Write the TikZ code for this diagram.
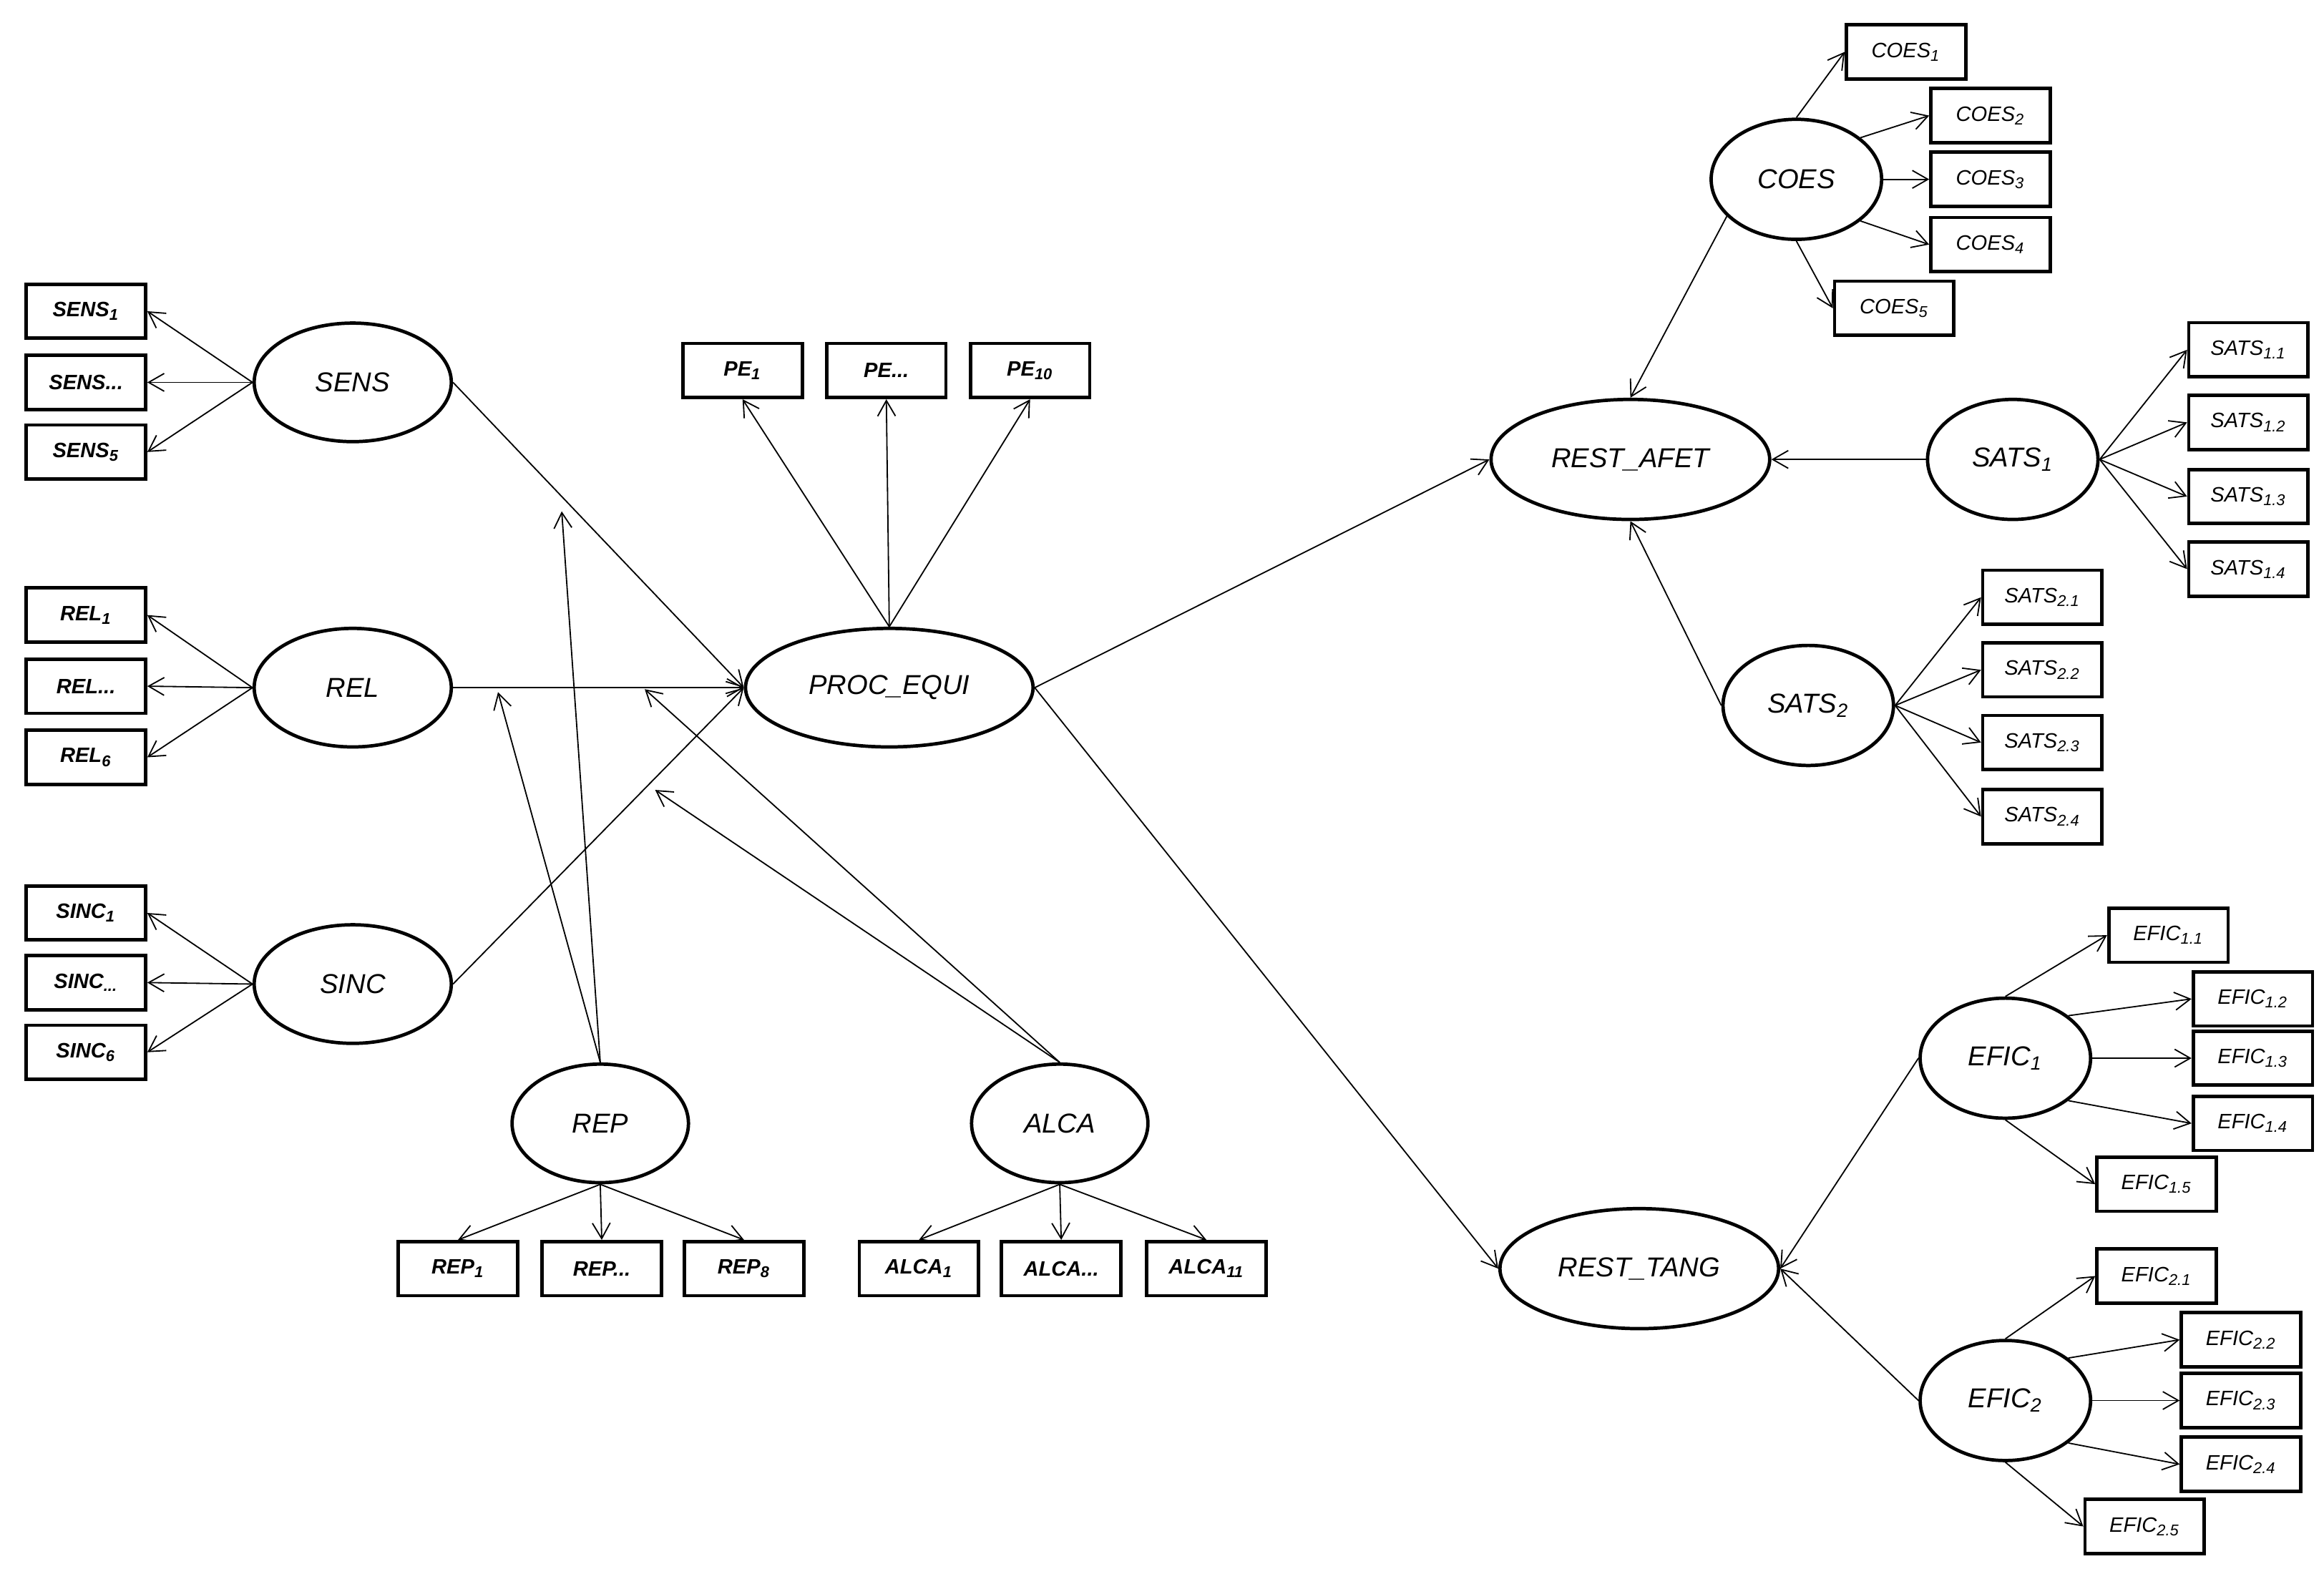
\documentclass[tikz,border=0pt]{standalone}
\usepackage{fontspec}
\setmainfont{Liberation Sans}
\usetikzlibrary{shapes.geometric,arrows.meta}

\begin{document}
\begin{tikzpicture}[x=0.2mm,y=-0.2mm,
    lat/.style={ellipse,draw,line width=1.3pt,inner sep=0pt,font=\itshape\fontsize{10.5}{12}\selectfont},
    latl/.style={lat,minimum width=26.6mm,minimum height=16mm},
    latm/.style={lat,minimum width=23.8mm,minimum height=16mm},
    latb/.style={lat,minimum width=37.6mm,minimum height=16.2mm},
    lats/.style={lat,minimum width=23mm,minimum height=16.2mm},
    obs/.style={rectangle,draw,line width=1.3pt,inner sep=0pt,minimum width=16.1mm,minimum height=7.3mm,font=\bfseries\itshape\fontsize{8}{9}\selectfont},
    obsr/.style={obs,font=\itshape\fontsize{8}{9}\selectfont},
    arr/.style={-{Straight Barb[length=2.1mm,width=2.4mm]},line width=0.5pt}]
    \useasboundingbox (0,0) rectangle (1568,1062);

    % left constructs
    \node[latl] (sens) at (238,258) {SENS};
    \node[latl] (rel) at (238,464) {REL};
    \node[latl] (sinc) at (238,664) {SINC};
    \node[obs] (sens1) at (58,210) {SENS\textsubscript{1}};
    \node[obs] (sensx) at (58,258) {SENS...};
    \node[obs] (sens5) at (58,305) {SENS\textsubscript{5}};
    \node[obs] (rel1) at (58,415) {REL\textsubscript{1}};
    \node[obs] (relx) at (58,463) {REL...};
    \node[obs] (rel6) at (58,511) {REL\textsubscript{6}};
    \node[obs] (sinc1) at (58,616) {SINC\textsubscript{1}};
    \node[obs] (sincx) at (58,663) {SINC\textsubscript{...}};
    \node[obs] (sinc6) at (58,710) {SINC\textsubscript{6}};

    % center
    \node[lat,minimum width=38.8mm,minimum height=16mm] (proc) at (600,464) {PROC\_EQUI};
    \node[obs] (pe1) at (501,250) {PE\textsubscript{1}};
    \node[obs] (pex) at (598,250) {PE...};
    \node[obs] (pe10) at (695,250) {PE\textsubscript{10}};
    \node[latm] (rep) at (405,758) {REP};
    \node[latm] (alca) at (715,758) {ALCA};
    \node[obs] (rep1) at (309,856) {REP\textsubscript{1}};
    \node[obs] (repx) at (406,856) {REP...};
    \node[obs] (rep8) at (502,856) {REP\textsubscript{8}};
    \node[obs] (alca1) at (620,856) {ALCA\textsubscript{1}};
    \node[obs] (alcax) at (716,856) {ALCA...};
    \node[obs] (alca11) at (814,856) {ALCA\textsubscript{11}};
    \coordinate (repsens) at (379,345);
    \coordinate (reprel) at (336,467);
    \coordinate (alcarel) at (435,465);
    \coordinate (alcasinc) at (442,533);

    % right constructs
    \node[latb] (afet) at (1100,310) {REST\_AFET};
    \node[latb] (tang) at (1106,856) {REST\_TANG};
    \node[lats] (coes) at (1212,121) {COES};
    \node[lats] (sats1) at (1358,310) {SATS\textsubscript{1}};
    \node[lats] (sats2) at (1220,476) {SATS\textsubscript{2}};
    \node[lats] (efic1) at (1353,714) {EFIC\textsubscript{1}};
    \node[lats] (efic2) at (1353,945) {EFIC\textsubscript{2}};
    \node[obsr] (coes1) at (1286,35) {COES\textsubscript{1}};
    \node[obsr] (coes2) at (1343,78) {COES\textsubscript{2}};
    \node[obsr] (coes3) at (1343,121) {COES\textsubscript{3}};
    \node[obsr] (coes4) at (1343,165) {COES\textsubscript{4}};
    \node[obsr] (coes5) at (1278,208) {COES\textsubscript{5}};
    \node[obsr] (s11) at (1517,236) {SATS\textsubscript{1.1}};
    \node[obsr] (s12) at (1517,285) {SATS\textsubscript{1.2}};
    \node[obsr] (s13) at (1517,335) {SATS\textsubscript{1.3}};
    \node[obsr] (s14) at (1517,384) {SATS\textsubscript{1.4}};
    \node[obsr] (s21) at (1378,403) {SATS\textsubscript{2.1}};
    \node[obsr] (s22) at (1378,452) {SATS\textsubscript{2.2}};
    \node[obsr] (s23) at (1378,501) {SATS\textsubscript{2.3}};
    \node[obsr] (s24) at (1378,551) {SATS\textsubscript{2.4}};
    \node[obsr] (e11) at (1463,631) {EFIC\textsubscript{1.1}};
    \node[obsr] (e12) at (1520,674) {EFIC\textsubscript{1.2}};
    \node[obsr] (e13) at (1520,714) {EFIC\textsubscript{1.3}};
    \node[obsr] (e14) at (1520,758) {EFIC\textsubscript{1.4}};
    \node[obsr] (e15) at (1455,799) {EFIC\textsubscript{1.5}};
    \node[obsr] (e21) at (1455,861) {EFIC\textsubscript{2.1}};
    \node[obsr] (e22) at (1512,904) {EFIC\textsubscript{2.2}};
    \node[obsr] (e23) at (1512,945) {EFIC\textsubscript{2.3}};
    \node[obsr] (e24) at (1512,988) {EFIC\textsubscript{2.4}};
    \node[obsr] (e25) at (1447,1030) {EFIC\textsubscript{2.5}};

    % measurement arrows, left
    \draw[arr] (sens.west) -- (sens1.east);
    \draw[arr] (sens.west) -- (sensx.east);
    \draw[arr] (sens.west) -- (sens5.east);
    \draw[arr] (rel.west) -- (rel1.east);
    \draw[arr] (rel.west) -- (relx.east);
    \draw[arr] (rel.west) -- (rel6.east);
    \draw[arr] (sinc.west) -- (sinc1.east);
    \draw[arr] (sinc.west) -- (sincx.east);
    \draw[arr] (sinc.west) -- (sinc6.east);

    % structural paths
    \draw[arr] (sens.east) -- (proc.west);
    \draw[arr] (rel.east) -- (proc.west);
    \draw[arr] (sinc.east) -- (proc.west);
    \draw[arr] (rep.north) -- (repsens);
    \draw[arr] (rep.north) -- (reprel);
    \draw[arr] (alca.north) -- (alcarel);
    \draw[arr] (alca.north) -- (alcasinc);
    \draw[arr] (proc.east) -- (afet.west);
    \draw[arr] (proc.east) -- (tang.west);
    \draw[arr] (coes.208) -- (afet.north);
    \draw[arr] (sats1.west) -- (afet.east);
    \draw[arr] (sats2.west) -- (afet.south);
    \draw[arr] (efic1.west) -- (tang.east);
    \draw[arr] (efic2.west) -- (tang.east);

    % measurement arrows, center
    \draw[arr] (proc.north) -- (pe1.south);
    \draw[arr] (proc.north) -- (pex.south);
    \draw[arr] (proc.north) -- (pe10.south);
    \draw[arr] (rep.south) -- (rep1.north);
    \draw[arr] (rep.south) -- (repx.north);
    \draw[arr] (rep.south) -- (rep8.north);
    \draw[arr] (alca.south) -- (alca1.north);
    \draw[arr] (alca.south) -- (alcax.north);
    \draw[arr] (alca.south) -- (alca11.north);

    % measurement arrows, right
    \draw[arr] (coes.north) -- (coes1.west);
    \draw[arr] (coes.33) -- (coes2.west);
    \draw[arr] (coes.east) -- (coes3.west);
    \draw[arr] (coes.-33) -- (coes4.west);
    \draw[arr] (coes.south) -- (coes5.west);
    \draw[arr] (sats1.east) -- (s11.west);
    \draw[arr] (sats1.east) -- (s12.west);
    \draw[arr] (sats1.east) -- (s13.west);
    \draw[arr] (sats1.east) -- (s14.west);
    \draw[arr] (sats2.east) -- (s21.west);
    \draw[arr] (sats2.east) -- (s22.west);
    \draw[arr] (sats2.east) -- (s23.west);
    \draw[arr] (sats2.east) -- (s24.west);
    \draw[arr] (efic1.north) -- (e11.west);
    \draw[arr] (efic1.34) -- (e12.west);
    \draw[arr] (efic1.east) -- (e13.west);
    \draw[arr] (efic1.-34) -- (e14.west);
    \draw[arr] (efic1.south) -- (e15.west);
    \draw[arr] (efic2.north) -- (e21.west);
    \draw[arr] (efic2.34) -- (e22.west);
    \draw[arr] (efic2.east) -- (e23.west);
    \draw[arr] (efic2.-34) -- (e24.west);
    \draw[arr] (efic2.south) -- (e25.west);
\end{tikzpicture}
\end{document}
